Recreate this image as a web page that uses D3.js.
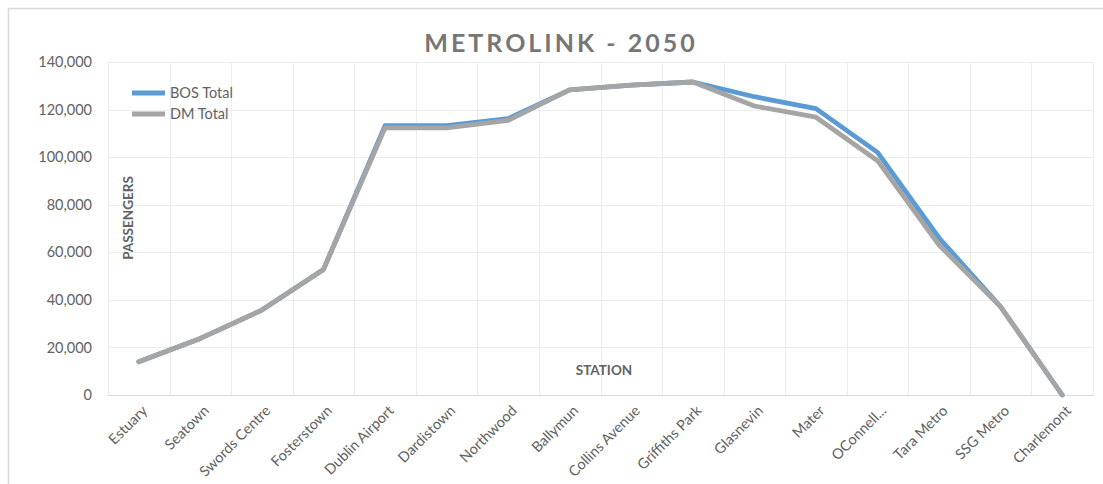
<!DOCTYPE html>
<html><head><meta charset="utf-8">
<script src="https://cdn.jsdelivr.net/npm/d3@7"></script>
<style>
html,body{margin:0;padding:0;background:#fff;}
svg{display:block;}
</style></head>
<body>
<svg id="chart" width="1103" height="484"></svg>
<script>
const stations = ["Estuary","Seatown","Swords Centre","Fosterstown","Dublin Airport","Dardistown","Northwood","Ballymun","Collins Avenue","Griffiths Park","Glasnevin","Mater","OConnell...","Tara Metro","SSG Metro","Charlemont"];
const bosTotal = [14000,23800,35700,52800,113200,113200,116200,128300,130300,131600,125400,120400,102000,66000,37100,0];
const dmTotal  = [14000,23800,35700,52800,112300,112300,115500,128300,130300,131600,121500,116800,98500,63000,37100,0];
const yTicks = [0,20000,40000,60000,80000,100000,120000,140000];
const seriesNames = ["BOS Total","DM Total"];
const seriesColors = ["#5b9bd5","#a5a5a5"];

const svg = d3.select("#chart");
const m = {left:108, right:1093, top:62, bottom:395};
const font = "Lato, 'Open Sans', sans-serif";
const txt = "#626262";

// outer border
svg.append("rect").attr("x",8.5).attr("y",8.5).attr("width",1110).attr("height",500)
  .attr("fill","#fff").attr("stroke","#d9d9d9").attr("stroke-width",1.5);

const x = d3.scaleBand().domain(stations).range([m.left,m.right]);
const y = d3.scaleLinear().domain([0,140000]).range([m.bottom,m.top]);

// horizontal grid
svg.append("g").selectAll("line").data(yTicks.slice(1)).join("line")
  .attr("x1",m.left).attr("x2",m.right)
  .attr("y1",d=>Math.round(y(d))+0.5).attr("y2",d=>Math.round(y(d))+0.5)
  .attr("stroke","#ececec").attr("stroke-width",1);
// vertical grid at category boundaries
const bounds = stations.map(s=>x(s)).concat([m.right]);
svg.append("g").selectAll("line").data(bounds).join("line")
  .attr("x1",d=>Math.round(d)+0.5).attr("x2",d=>Math.round(d)+0.5)
  .attr("y1",m.top).attr("y2",m.bottom)
  .attr("stroke","#ececec").attr("stroke-width",1);

// y axis
const yAxis = d3.axisLeft(y).tickValues(yTicks).tickSize(0).tickPadding(16)
  .tickFormat(d3.format(","));
const gy = svg.append("g").attr("transform",`translate(${m.left},0)`).call(yAxis);
gy.select(".domain").remove();
gy.selectAll("text").attr("font-family",font).attr("font-size",14.5).attr("fill",txt);

// x axis
const xAxis = d3.axisBottom(x).tickSize(0).tickPadding(0);
const gx = svg.append("g").attr("transform",`translate(0,${m.bottom})`).call(xAxis);
gx.select(".domain").attr("stroke","#d9d9d9").attr("stroke-width",1.2);
gx.selectAll("text")
  .attr("font-family",font).attr("font-size",14.5).attr("fill",txt)
  .attr("text-anchor","end")
  .attr("transform","translate(6,13) rotate(-45)")
  .attr("dy","0.35em").attr("y",0);

// lines
const line = d3.line().x((d,i)=>x(stations[i])+x.bandwidth()/2).y(d=>y(d));
[bosTotal, dmTotal].forEach((vals,k)=>{
  svg.append("path").datum(vals).attr("d",line)
    .attr("fill","none").attr("stroke",seriesColors[k]).attr("stroke-width",4.8)
    .attr("stroke-linejoin","round").attr("stroke-linecap","round");
});

// title
svg.append("text").attr("x",561).attr("y",52).attr("text-anchor","middle")
  .attr("font-family",font).attr("font-weight","bold").attr("font-size",25)
  .attr("letter-spacing","3px").attr("fill","#767676").text("METROLINK - 2050");

// axis titles
svg.append("text").attr("transform","translate(133,218) rotate(-90)").attr("text-anchor","middle")
  .attr("font-family",font).attr("font-weight","bold").attr("font-size",13.5).attr("fill",txt)
  .text("PASSENGERS");
svg.append("text").attr("x",604).attr("y",375).attr("text-anchor","middle")
  .attr("font-family",font).attr("font-weight","bold").attr("font-size",13.5).attr("fill",txt)
  .text("STATION");

// legend
const lg = svg.append("g");
seriesNames.forEach((n,k)=>{
  const ly = 93 + k*21;
  lg.append("line").attr("x1",132).attr("x2",165).attr("y1",ly).attr("y2",ly)
    .attr("stroke",seriesColors[k]).attr("stroke-width",4.8);
  lg.append("text").attr("x",170).attr("y",ly).attr("dy","0.35em")
    .attr("font-family",font).attr("font-size",14.5).attr("fill",txt).text(n);
});
</script>
</body></html>
